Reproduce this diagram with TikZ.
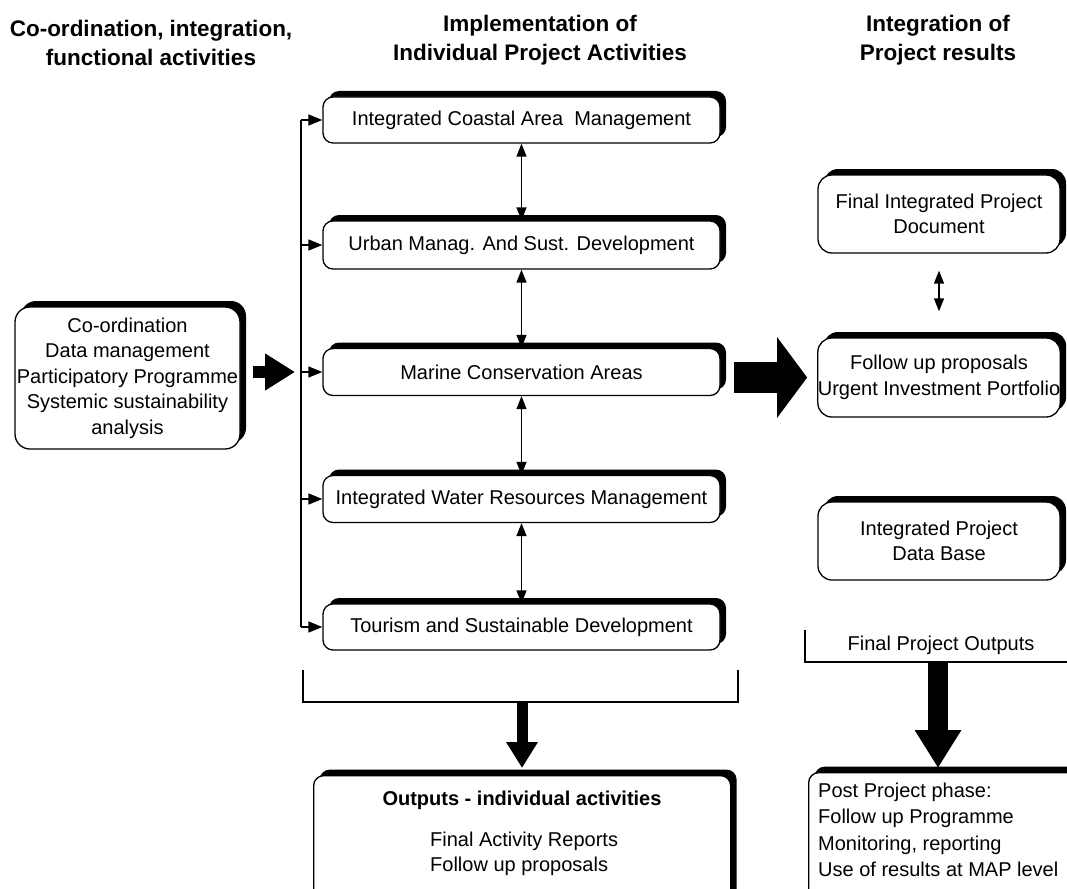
\documentclass[tikz,border=0pt]{standalone}
\usepackage{fontspec}
\setmainfont{Liberation Sans}
\usetikzlibrary{arrows.meta,shadows}
\newcommand\bodyfnt{\fontsize{20}{25.5}\selectfont}
\newcommand\headfnt{\fontsize{22.5}{28.5}\selectfont\bfseries}
\tikzset{
  box/.style={draw, line width=1.3pt, fill=white, rounded corners=10pt,
    drop shadow={shadow xshift=6pt, shadow yshift=6pt, opacity=1, fill=black},
    inner sep=0pt, align=center, font=\bodyfnt},
  head/.style={align=center, font=\headfnt, inner sep=0pt},
  txt/.style={font=\bodyfnt, inner sep=0pt},
  thinline/.style={line width=1.4pt},
  sarrow/.style={thinline, -{Triangle[length=14pt,width=11pt]}},
  darrow/.style={thinline, {Triangle[length=13pt,width=10pt]}-{Triangle[length=13pt,width=10pt]}},
  bracket/.style={line width=2pt},
  fatsmall/.style={line width=12pt, -{Triangle[length=30pt,width=35pt]}},
  fatbig/.style={line width=31pt, -{Triangle[length=30pt,width=79pt]}},
  fatdownA/.style={line width=11pt, -{Triangle[length=26pt,width=30pt]}},
  fatdownB/.style={line width=20pt, -{Triangle[length=38pt,width=44pt]}},
}
\begin{document}
\begin{tikzpicture}[x=1pt,y=-1pt]
\clip (0,0) rectangle (1067,888);
\fill[white] (0,0) rectangle (1067,888);
% headers
\node[head, anchor=north] (h1) at (151,20) {Co-ordination, integration,\\functional activities};
\node[head, anchor=north] (h2) at (540,15) {Implementation of\\Individual Project Activities};
\node[head, anchor=north] (h3) at (938,15) {Integration of\\Project results};
% left box
\node[box, rounded corners=15pt, minimum width=225pt, minimum height=142pt] (L) at (127.5,378)
  {Co-ordination\\Data management\\Participatory Programme\\Systemic sustainability\\analysis};
% middle boxes
\node[box, minimum width=397pt, minimum height=46pt] (m1) at (521.5,120) {Integrated Coastal Area\ \ Management};
\node[box, minimum width=397pt, minimum height=48pt] (m2) at (521.5,245) {Urban Manag. And Sust. Development};
\node[box, minimum width=397pt, minimum height=47pt] (m3) at (521.5,372) {Marine Conservation Areas};
\node[box, minimum width=397pt, minimum height=47pt] (m4) at (521.5,499) {Integrated Water Resources Management};
\node[box, minimum width=397pt, minimum height=46pt] (m5) at (521.5,627) {Tourism and Sustainable Development};
% right boxes
\node[box, rounded corners=14pt, minimum width=242pt, minimum height=78pt] (fid) at (939,214) {Final Integrated Project\\Document};
\node[box, rounded corners=14pt, minimum width=242pt, minimum height=79pt] (fup) at (939,377.5) {Follow up proposals\\Urgent Investment Portfolio};
\node[box, rounded corners=14pt, minimum width=242pt, minimum height=78pt] (fdb) at (939,541) {Integrated Project\\Data Base};
% bottom boxes
\node[box, anchor=north west, minimum width=417pt, minimum height=150pt] (out) at (313,775) {};
\node[txt, font=\bodyfnt\bfseries, anchor=base] (outt) at (522,805) {Outputs - individual activities};
\node[txt, anchor=north west, align=left] (outl) at (430,831.5) {Final Activity Reports\\Follow up proposals};
\node[box, anchor=north west, minimum width=300pt, minimum height=150pt] (post) at (808,772) {};
\node[txt, anchor=north west, align=left, font=\fontsize{20}{26.5}\selectfont] (postt) at (818,782.5)
  {Post Project phase:\\Follow up Programme\\Monitoring, reporting\\Use of results at MAP level};
% vertical distribution line
\coordinate (vx) at (301,0);
\draw[thinline] (vx |- m1) -- (vx |- m5);
\foreach \n in {m1,m2,m3,m4,m5} \draw[sarrow] (vx |- \n) -- (\n.west);
% double arrows
\draw[darrow] (m1) -- (m2);
\draw[darrow] (m2) -- (m3);
\draw[darrow] (m3) -- (m4);
\draw[darrow] (m4) -- (m5);
\draw[darrow, shorten <=17pt, shorten >=26pt] (fid) -- (fup);
% fat arrows
\coordinate (la) at ([xshift=12pt]L.east);
\draw[fatsmall] (la |- m3) -- ([xshift=-6pt]vx |- m3);
\coordinate (ma) at ([xshift=13pt]m3.east);
\draw[fatbig] (ma |- fup) -- ([xshift=-10pt]fup.west);
% brackets
\coordinate (bl) at (303,670);
\coordinate (br) at (738,670);
\coordinate (bm) at (522,702);
\draw[bracket] (bl) |- (bm) -| (br);
\draw[fatdownA] (bm) -- (522,768);
\coordinate (rl) at (805,630);
\coordinate (rm) at (938,662);
\coordinate (rr) at (1070,662);
\node[txt, anchor=base] (fpo) at (941,650) {Final Project Outputs};
\draw[bracket] (rl) |- (rm) -- (rr);
\draw[fatdownB] (rm) -- (938,768);
\end{tikzpicture}
\end{document}
